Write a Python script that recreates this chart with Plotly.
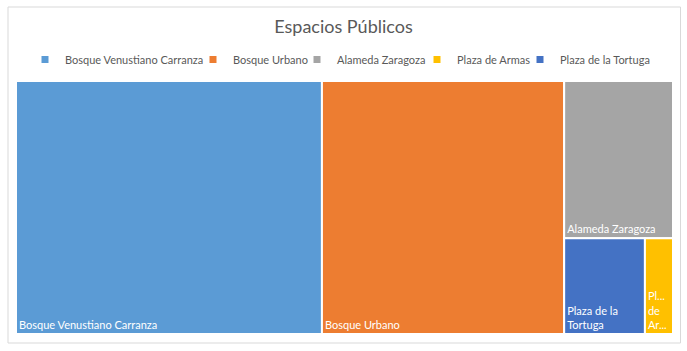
import plotly.graph_objects as go

labels = ["Bosque Venustiano Carranza", "Bosque Urbano", "Alameda Zaragoza", "Plaza de Armas", "Plaza de la Tortuga"]
tile_text = ["Bosque Venustiano Carranza", "Bosque Urbano", "Alameda Zaragoza", "Pl...<br>de<br>Ar...", "Plaza de la<br>Tortuga"]
values = [46.1, 36.5, 10.2, 1.6, 4.6]
colors = ["#5B9BD5", "#ED7D31", "#A5A5A5", "#FFC000", "#4472C4"]
# pixel x where each legend label text starts in the reference
legend_text_x = [72, 235, 334, 449, 547]

FONT = "Lato"
L, R, T, B = 16, 14, 81, 17
PW, PH = 687 - L - R, 351 - T - B
# small spread so plotly's wider symbol-to-text gap doesn't collide with previous text
spread = [-7, -2, 3, 8, 13]

fig = go.Figure()
fig.add_trace(go.Treemap(
    labels=labels,
    parents=[""] * len(labels),
    values=values,
    text=tile_text,
    textinfo="text",
    textposition="bottom left",
    textfont=dict(family=FONT, size=11, color="white"),
    marker=dict(colors=colors, line=dict(width=2, color="white"), pad=dict(t=0, l=0, r=0, b=0)),
    tiling=dict(packing="squarify", pad=0),
    pathbar=dict(visible=False),
    hoverinfo="label+value",
    sort=True,
))

legend_layouts = {}
for i, (lab, col, tx) in enumerate(zip(labels, colors, legend_text_x)):
    key = "legend" if i == 0 else f"legend{i + 1}"
    fig.add_trace(go.Scatter(
        x=[None], y=[None], mode="markers", name=lab,
        marker=dict(symbol="square", size=7, color=col),
        showlegend=True, legend=key,
    ))
    legend_layouts[key] = dict(
        orientation="h", x=(tx + spread[i] - 40 - L) / PW, xanchor="left",
        y=1 + (T - 59.5) / PH, yanchor="middle",
        font=dict(family=FONT, size=11, color="#595959"),
        bgcolor="rgba(0,0,0,0)", borderwidth=0,
    )

fig.update_layout(
    width=687, height=351,
    margin=dict(l=L, r=R, t=T, b=B),
    paper_bgcolor="white", plot_bgcolor="white",
    title=dict(text="Espacios Públicos", x=0.5, xanchor="center", y=1 - 27 / 351, yanchor="middle",
               font=dict(family=FONT, size=18, color="#595959")),
    xaxis=dict(visible=False), yaxis=dict(visible=False),
    shapes=[dict(type="rect", xref="paper", yref="paper",
                 x0=(8 - L) / PW, x1=(680.5 - L) / PW,
                 y0=(334 - 343) / PH, y1=(334 - 7) / PH,
                 line=dict(color="#D9D9D9", width=1), layer="below")],
    **legend_layouts,
)

fig.write_html("out.html")
